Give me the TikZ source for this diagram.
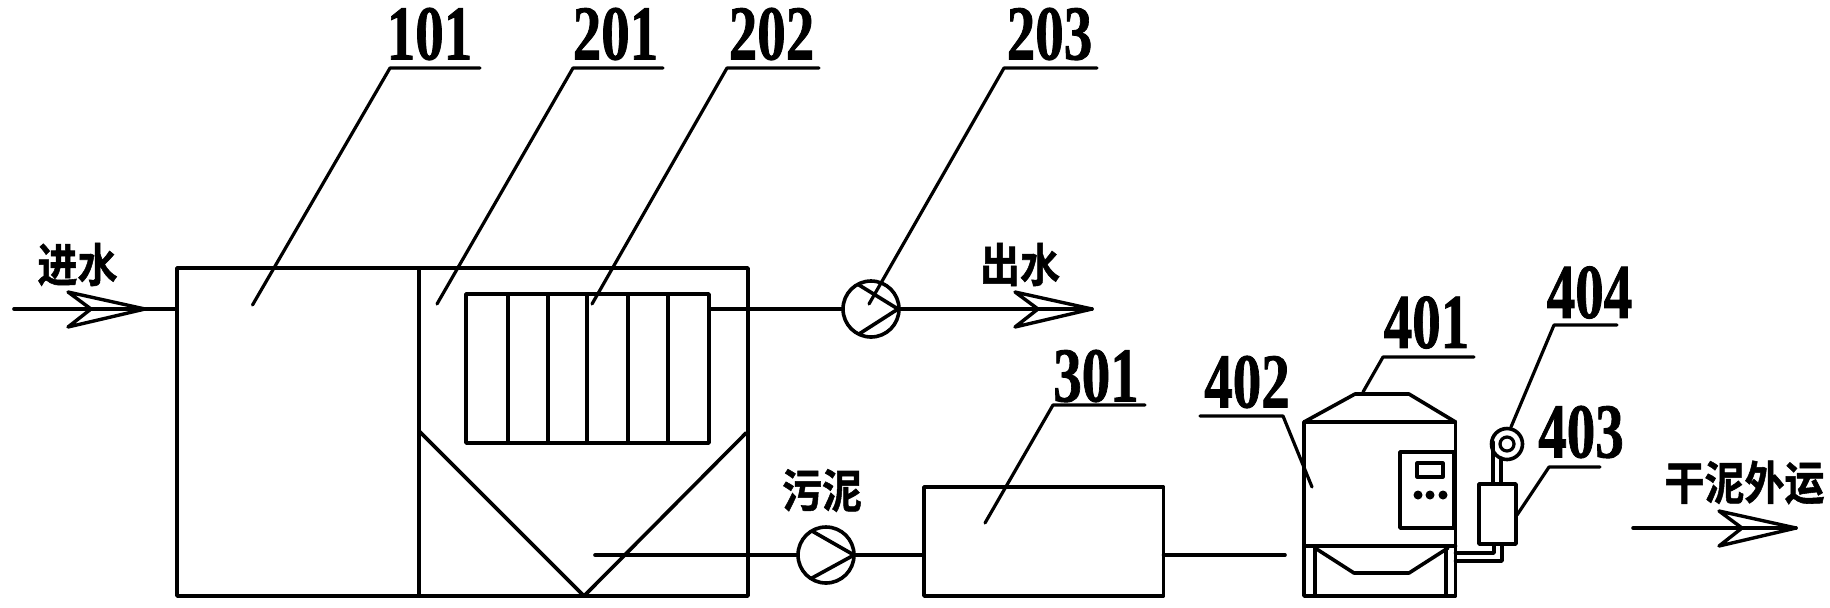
\documentclass[tikz,border=0pt]{standalone}
\usepackage{fontspec}
\usepackage{graphicx}
\setmainfont{Liberation Serif}
\newfontfamily\numf{Liberation Serif Bold}[FakeBold=1.2]
\newfontfamily\cjk{Noto Sans CJK SC Bold}[FakeBold=1.2]
\newcommand{\numlab}[1]{\scalebox{1}[1.36]{\fontsize{28.5pt}{30pt}\selectfont\numf #1}}
\newcommand{\cnlab}[1]{\scalebox{1}[1.15]{\fontsize{20pt}{22pt}\selectfont\cjk #1}}
\tikzset{
  ln/.style={line width=1.8pt,line cap=round,line join=round},
  thin ln/.style={line width=1.6pt,line cap=round,line join=round},
  boxn/.style={draw,rectangle,ln,inner sep=0pt,outer sep=0pt},
  pump/.style={draw,circle,ln,inner sep=0pt,outer sep=0pt,minimum size=28pt},
  txt/.style={inner sep=0pt,outer sep=0pt,anchor=center},
  hd/.pic={\draw[ln,line width=1.7pt] (-77,-17) -- (0,0) -- (-77,18) -- (-54,0) -- cycle;}
}
\begin{document}
\begin{tikzpicture}[x=0.5pt,y=-0.5pt]
\useasboundingbox (0,0) rectangle (1830,607);
% tanks
\node[boxn,minimum width=285.5pt,minimum height=164pt] (tank) at (462.5,432) {};
\node[boxn,minimum width=121.5pt,minimum height=74.5pt] (mem) at (587.5,368.5) {};
\node[boxn,minimum width=119.75pt,minimum height=54.5pt] (b301) at (1043.75,541.5) {};
\draw[ln] (419,268) -- (419,596);
\foreach \x in {508,548,587,628,668} \draw[ln] (\x,294) -- (\x,443);
\coordinate (apex) at (584,596);
\draw[ln] (419,431) -- (apex) -- (746,433);
% pumps
\node[pump] (p1) at (871,309) {};
\node[pump] (p2) at (826,555) {};
\coordinate (p1t) at (898,309);
\coordinate (p2t) at (854,555);
\draw[ln] (859,285) -- (p1t) -- (859,334);
\draw[ln] (812,531) -- (p2t) -- (812,578);
% pipes
\coordinate (inS) at (14,309);
\coordinate (outE) at (1092,309);
\coordinate (slS) at (595,555);
\coordinate (dryS) at (1633,528);
\coordinate (dryE) at (1796,528);
\draw[ln] (inS) -- (tank.west |- inS);
\draw[ln] (mem.east |- p1) -- (p1);
\draw[ln] (p1) -- (outE);
\draw[ln] (slS) -- (p2);
\draw[ln] (p2) -- (b301.west |- p2);
\draw[ln] (b301.east |- p2) -- (1285,555);
\draw[ln] (dryS) -- (dryE);
\pic at (145,309) {hd};
\pic at (outE) {hd};
\pic at (dryE) {hd};
% dryer body
\node[boxn,minimum width=75.75pt,minimum height=87pt] (body) at (1379.75,509) {};
\draw[ln] (1304,422) -- (1355,394) -- (1409,394) -- (1455.5,422);
\draw[ln] (1304,546) -- (1455.5,546);
\draw[ln] (1315,546) -- (1315,596);
\draw[ln] (1446,546) -- (1446,596);
\draw[ln] (1315,548) -- (1354,573) -- (1409,573) -- (1448,548);
\node[boxn,minimum width=27pt,minimum height=38pt] (panel) at (1427,490) {};
\node[boxn,minimum width=13pt,minimum height=7pt,line width=1.6pt] (disp) at (1430,470) {};
\foreach \x in {1418,1430,1443} \fill (\x,495) circle (4.5);
% 403, 404
\node[boxn,minimum width=18.5pt,minimum height=30pt] (b403) at (1497.5,514) {};
\node[draw,circle,ln,inner sep=0pt,outer sep=0pt,minimum size=15.5pt] (fan) at (1507,444) {};
\node[draw,circle,thin ln,inner sep=0pt,outer sep=0pt,minimum size=7pt] (fani) at (1507,444) {};
\draw[ln] (1493,484) -- (1493,442);
\draw[ln] (1501,484) -- (1501,458);
\draw[ln] (body.east |- 0,553) -- (1494,553) -- (1494,544);
\draw[ln] (body.east |- 0,561) -- (1502,561) -- (1502,544);
% leaders and numbers
\node[txt] (t101) at (429.5,34) {\numlab{101}};
\node[txt] (t201) at (615.5,34) {\numlab{201}};
\node[txt] (t202) at (771.5,34) {\numlab{202}};
\node[txt] (t203) at (1049.5,34) {\numlab{203}};
\node[txt] (t301) at (1096,376) {\numlab{301}};
\node[txt] (t401) at (1426.5,322.5) {\numlab{401}};
\node[txt] (t402) at (1247,382) {\numlab{402}};
\node[txt] (t403) at (1581,432) {\numlab{403}};
\node[txt] (t404) at (1589.5,292.5) {\numlab{404}};
\draw[thin ln] (480,68) -- (390,68) -- (252.5,305);
\draw[thin ln] (663,68) -- (573,68) -- (437,304);
\draw[thin ln] (819,68) -- (727,68) -- (592,304);
\draw[thin ln] (1097,68) -- (1004,68) -- (869,304);
\draw[thin ln] (1145,405) -- (1053,405) -- (985,523);
\draw[thin ln] (1474,357) -- (1383,357) -- (1363,392);
\draw[thin ln] (1200,416) -- (1283,416) -- (1312,487);
\draw[thin ln] (1600,467) -- (1549,467) -- (1517,515);
\draw[thin ln] (1617,325) -- (1554,325) -- (1511,427);
% Chinese labels
\node[txt] (inw) at (77.5,264.5) {\cnlab{进水}};
\node[txt] (outw) at (1020,264.5) {\cnlab{出水}};
\node[txt] (sl) at (822,490.5) {\cnlab{污泥}};
\node[txt] (dry) at (1744.5,482.5) {\cnlab{干泥外运}};
\end{tikzpicture}
\end{document}
